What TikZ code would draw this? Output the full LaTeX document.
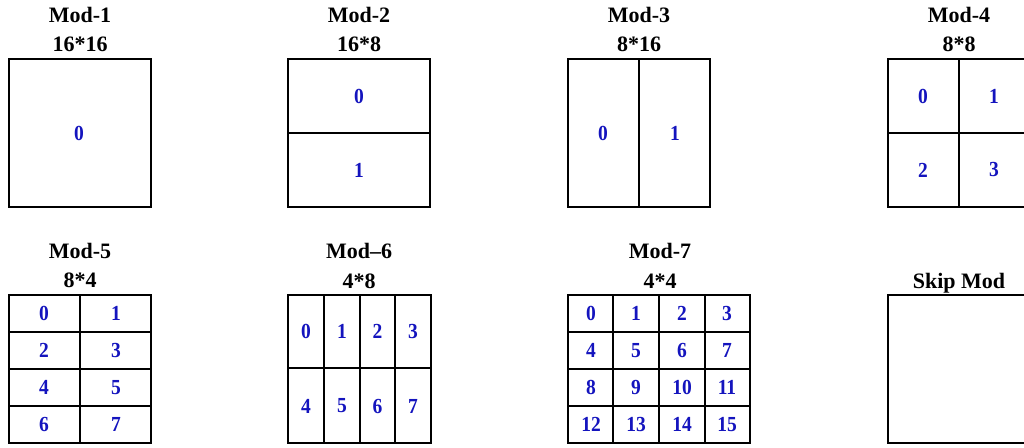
\documentclass[tikz,border=0pt]{standalone}
\usepackage{fontspec}
\setmainfont{Liberation Serif}
\definecolor{numblue}{RGB}{20,20,190}
\begin{document}
\begin{tikzpicture}[x=1pt,y=-1pt,
  gridline/.style={line width=1.7pt,black},
  ttl/.style={anchor=base,inner sep=0pt,font=\fontsize{22}{24}\selectfont\bfseries},
  num/.style={inner sep=0pt,text=numblue,yscale=1.1,font=\fontsize{19.5}{22}\selectfont\bfseries}]
\useasboundingbox (0,0) rectangle (1024,447);
\clip (0,0) rectangle (1024,447);
\fill[white] (0,0) rectangle (1024,447);
% ---------- titles ----------
\node[ttl] (t1a) at (80,22) {Mod-1};
\node[ttl] (t1b) at (80,51) {16*16};
\node[ttl] (t2a) at (359,22) {Mod-2};
\node[ttl] (t2b) at (359,51) {16*8};
\node[ttl] (t3a) at (639,22) {Mod-3};
\node[ttl] (t3b) at (639,51) {8*16};
\node[ttl] (t4a) at (959,22) {Mod-4};
\node[ttl] (t4b) at (959,51) {8*8};
\node[ttl] (t5a) at (80,258) {Mod-5};
\node[ttl] (t5b) at (80,287) {8*4};
\node[ttl] (t6a) at (359,258) {Mod--6};
\node[ttl] (t6b) at (359,288) {4*8};
\node[ttl] (t7a) at (660,258) {Mod-7};
\node[ttl] (t7b) at (660,288) {4*4};
\node[ttl] (t8a) at (959,288) {Skip Mod};
% ---------- Mod-1 ----------
\draw[gridline] (9,59) rectangle (151,207);
\node[num] (m1n0) at (79,133) {0};
% ---------- Mod-2 ----------
\draw[gridline] (288,59) rectangle (430,207);
\draw[gridline] (288,133) -- (430,133);
\node[num] (m2n0) at (359,96) {0};
\node[num] (m2n1) at (359,170) {1};
% ---------- Mod-3 ----------
\draw[gridline] (568,59) rectangle (710,207);
\draw[gridline] (639,59) -- (639,207);
\node[num] (m3n0) at (603,133) {0};
\node[num] (m3n1) at (675,133) {1};
% ---------- Mod-4 ----------
\draw[gridline] (888,59) rectangle (1030,207);
\draw[gridline] (959,59) -- (959,207);
\draw[gridline] (888,133) -- (1030,133);
\node[num] (m4n0) at (923,96) {0};
\node[num] (m4n1) at (994,96) {1};
\node[num] (m4n2) at (923,170) {2};
\node[num] (m4n3) at (994,170) {3};
% ---------- Mod-5 ----------
\draw[gridline] (9,295) rectangle (151,443);
\draw[gridline] (80,295) -- (80,443);
\foreach \yy in {332,369,406} \draw[gridline] (9,\yy) -- (151,\yy);
\foreach \i in {0,...,3}{
  \pgfmathtruncatemacro{\a}{2*\i}
  \pgfmathtruncatemacro{\b}{2*\i+1}
  \node[num] (m5n\a) at (44,313.5+37*\i) {\a};
  \node[num] (m5n\b) at (116,313.5+37*\i) {\b};
}
% ---------- Mod-6 ----------
\draw[gridline] (288,295) rectangle (431,443);
\foreach \xx in {324,360,395} \draw[gridline] (\xx,295) -- (\xx,443);
\draw[gridline] (288,368) -- (431,368);
\foreach \k/\xx in {0/306,1/342,2/377.5,3/413}{
  \pgfmathtruncatemacro{\c}{\k+4}
  \node[num] (m6n\k) at (\xx,331) {\k};
  \node[num] (m6n\c) at (\xx,406) {\c};
}
% ---------- Mod-7 ----------
\draw[gridline] (568,295) rectangle (750,443);
\foreach \xx in {613,659,705} \draw[gridline] (\xx,295) -- (\xx,443);
\foreach \yy in {332,369,406} \draw[gridline] (568,\yy) -- (750,\yy);
\foreach \r in {0,...,3}{
  \foreach \k/\xx in {0/591,1/636,2/682,3/727}{
    \pgfmathtruncatemacro{\n}{4*\r+\k}
    \node[num] (m7n\n) at (\xx,313.5+37*\r) {\n};
  }
}
% ---------- Skip Mod ----------
\draw[gridline] (888,295) rectangle (1030,443);
\end{tikzpicture}
\end{document}
